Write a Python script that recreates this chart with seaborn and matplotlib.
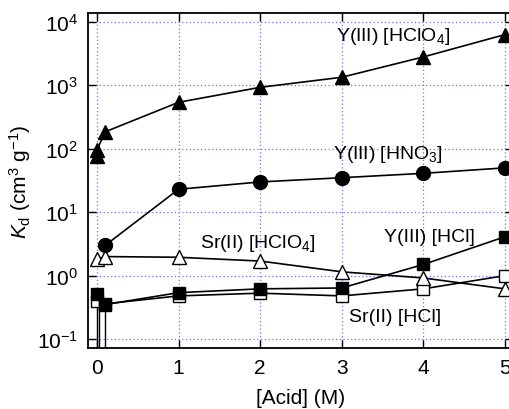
import numpy as np
import pandas as pd
import seaborn as sns
import matplotlib.pyplot as plt

# data
x_y_hclo4 = [0, 0, 0.1, 1, 2, 3, 4, 5]
y_hclo4 = [78, 95, 185, 540, 930, 1340, 2800, 6300]

x_y_hno3 = [0.1, 1, 2, 3, 4, 5]
y_hno3 = [3.0, 23, 30, 35, 41, 50]

x_sr_hclo4 = [0, 0.1, 1, 2, 3, 4, 5]
sr_hclo4 = [1.8, 2.0, 1.95, 1.7, 1.15, 0.92, 0.62]

x_y_hcl = [0, 0.1, 1, 2, 3, 4, 5]
y_hcl = [0.52, 0.35, 0.54, 0.62, 0.64, 1.5, 4.1]

x_sr_hcl = [0, 0.1, 1, 2, 3, 4, 5]
sr_hcl = [0.40, 0.36, 0.48, 0.53, 0.48, 0.62, 1.0]

# lower error bars near zero acid (run off the bottom of the axis)
err_x = [0, 0.1]
err_val = [0.52, 0.35]
err_low = [0.5, 0.34]

sns.set_style("ticks")
plt.rcParams['font.family'] = ['Liberation Sans', 'DejaVu Sans']
plt.rcParams['mathtext.fontset'] = 'custom'
plt.rcParams['mathtext.rm'] = 'Liberation Sans'
plt.rcParams['mathtext.it'] = 'Liberation Sans:italic'
for k in ['text.color', 'axes.labelcolor', 'xtick.color', 'ytick.color', 'axes.edgecolor']:
    plt.rcParams[k] = 'black'

fig = plt.figure(figsize=(5.1, 4.1), dpi=100)
ax = fig.add_axes([88 / 510, 61 / 410, 425 / 510, 335 / 410])

def series(x, y, marker, filled, ms):
    df = pd.DataFrame({'acid': x, 'kd': y})
    sns.lineplot(data=df, x='acid', y='kd', ax=ax, estimator=None, sort=False,
                 color='black', lw=1.2, marker=marker, markersize=ms,
                 markerfacecolor='black' if filled else 'white',
                 markeredgecolor='black', markeredgewidth=1.0, zorder=3)

ax.errorbar(err_x, err_val, yerr=[err_low, [0, 0]], fmt='none', ecolor='black',
            elinewidth=1.0, capsize=0, zorder=2)
ax.errorbar([0.03], [0.40], yerr=[[0.38], [0]], fmt='none', ecolor='black',
            elinewidth=1.0, capsize=0, zorder=2)

series(x_sr_hcl, sr_hcl, 's', False, 9)
series(x_sr_hclo4, sr_hclo4, '^', False, 10)
series(x_y_hcl, y_hcl, 's', True, 9)
series(x_y_hno3, y_hno3, 'o', True, 10)
series(x_y_hclo4, y_hclo4, '^', True, 10)

ax.set_yscale('log')
ax.set_xlim(-0.11, 5.1)
ax.set_ylim(10 ** -1.14, 10 ** 4.14)
ax.set_xticks([0, 1, 2, 3, 4, 5])
ax.set_yticks([0.1, 1, 10, 100, 1000, 10000])
ax.minorticks_off()
ax.yaxis.set_minor_locator(plt.NullLocator())
ax.grid(True, color='#7070ff', linestyle=(0, (1, 2)), lw=0.9)
ax.tick_params(direction='in', top=True, right=True, length=6, width=1,
               labelsize=15, pad=7)
for s in ax.spines.values():
    s.set_linewidth(1.3)

ax.set_xlabel('[Acid] (M)', fontsize=15, labelpad=8)
ax.set_ylabel(r'$K_{\mathrm{d}}$ (cm$^{3}$ g$^{-1}$)', fontsize=15, labelpad=3)

ax.text(3.63, 10 ** 3.78, r'Y(III) [HClO$_4$]', fontsize=14, ha='center', va='center')
ax.text(3.57, 10 ** 1.92, r'Y(III) [HNO$_3$]', fontsize=14, ha='center', va='center')
ax.text(1.97, 10 ** 0.53, r'Sr(II) [HClO$_4$]', fontsize=14, ha='center', va='center')
ax.text(4.07, 10 ** 0.61, 'Y(III) [HCl]', fontsize=14, ha='center', va='center')
ax.text(3.65, 10 ** -0.65, 'Sr(II) [HCl]', fontsize=14, ha='center', va='center')

fig.savefig('out.png', dpi=100)
